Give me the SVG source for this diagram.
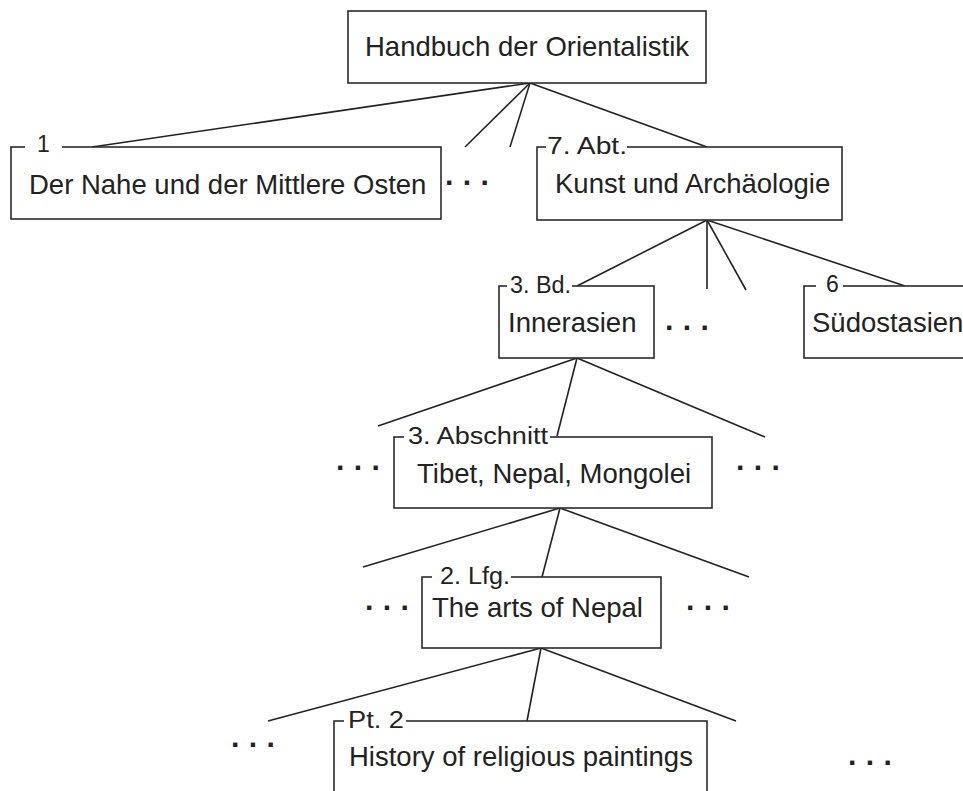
<svg xmlns="http://www.w3.org/2000/svg" width="963" height="791" viewBox="0 0 963 791">
<style>
.box{fill:#fff;stroke:#2b2b2b;stroke-width:1.6}
.t{font-family:"Liberation Sans",Arial,sans-serif;font-size:27.5px;fill:#222}
.lb{font-family:"Liberation Sans",Arial,sans-serif;font-size:23px;fill:#222}
.mask{fill:#fff}
.c line{stroke:#222;stroke-width:1.6}
.dots{font-family:"Liberation Sans",Arial,sans-serif;font-size:30px;font-weight:bold;fill:#222;letter-spacing:7.7px}
</style>
<rect width="963" height="791" fill="#fff"/>
<g id="connectors" class="c">
<line x1="530" y1="83" x2="92" y2="147"/>
<line x1="530" y1="83" x2="465" y2="147"/>
<line x1="530" y1="83" x2="510" y2="147"/>
<line x1="530" y1="83" x2="707" y2="147"/>
<line x1="707" y1="220" x2="577" y2="286"/>
<line x1="707" y1="220" x2="707" y2="289"/>
<line x1="707" y1="220" x2="746" y2="290"/>
<line x1="707" y1="220" x2="905" y2="286"/>
<line x1="577" y1="358" x2="378" y2="426"/>
<line x1="577" y1="358" x2="557" y2="436"/>
<line x1="577" y1="358" x2="765" y2="437"/>
<line x1="560" y1="508" x2="363" y2="567"/>
<line x1="560" y1="508" x2="542" y2="577"/>
<line x1="560" y1="508" x2="749" y2="577"/>
<line x1="541" y1="648" x2="268" y2="721"/>
<line x1="541" y1="648" x2="527" y2="721"/>
<line x1="541" y1="648" x2="736" y2="721"/>
</g>
<g id="root">
<rect class="box" x="348" y="11" width="358" height="72"/>
<text class="t" x="365" y="56">Handbuch der Orientalistik</text>
</g>
<g id="n1">
<rect class="box" x="11" y="147" width="430" height="72"/>
<rect class="mask" x="25" y="143" width="37" height="8"/>
<text class="lb" x="37" y="152">1</text>
<text class="t" x="29" y="194">Der Nahe und der Mittlere Osten</text>
</g>
<g id="n7">
<rect class="box" x="537" y="147" width="305" height="73"/>
<rect class="mask" x="546" y="143" width="81" height="8"/>
<text class="lb" x="547" y="154" textLength="80" lengthAdjust="spacingAndGlyphs">7. Abt.</text>
<text class="t" x="555" y="193">Kunst und Archäologie</text>
</g>
<g id="n3bd">
<rect class="box" x="499" y="286" width="155" height="72"/>
<rect class="mask" x="507" y="282" width="65" height="8"/>
<text class="lb" x="510" y="293" textLength="61" lengthAdjust="spacingAndGlyphs">3. Bd.</text>
<text class="t" x="508" y="332">Innerasien</text>
</g>
<g id="n6">
<rect class="box" x="804" y="286" width="220" height="72"/>
<rect class="mask" x="816" y="282" width="27" height="8"/>
<text class="lb" x="826" y="292">6</text>
<text class="t" x="812" y="332">Südostasien</text>
</g>
<g id="n3ab">
<rect class="box" x="394" y="437" width="318" height="71"/>
<rect class="mask" x="404" y="433" width="146" height="8"/>
<text class="lb" x="408" y="444" textLength="140" lengthAdjust="spacingAndGlyphs">3. Abschnitt</text>
<text class="t" x="417" y="483">Tibet, Nepal, Mongolei</text>
</g>
<g id="n2lfg">
<rect class="box" x="422" y="577" width="239" height="71"/>
<rect class="mask" x="432" y="573" width="79" height="8"/>
<text class="lb" x="440" y="584" textLength="70" lengthAdjust="spacingAndGlyphs">2. Lfg.</text>
<text class="t" x="432" y="617">The arts of Nepal</text>
</g>
<g id="npt2">
<rect class="box" x="334" y="721" width="373" height="100"/>
<rect class="mask" x="344" y="717" width="62" height="8"/>
<text class="lb" x="348" y="728" textLength="56" lengthAdjust="spacingAndGlyphs">Pt. 2</text>
<text class="t" x="349" y="766">History of religious paintings</text>
</g>
<g id="ellipses">
<text class="dots" x="445" y="193">···</text>
<text class="dots" x="665" y="338">···</text>
<text class="dots" x="336" y="478">···</text>
<text class="dots" x="736" y="478">···</text>
<text class="dots" x="365" y="618">···</text>
<text class="dots" x="686" y="618">···</text>
<text class="dots" x="231" y="755">···</text>
<text class="dots" x="848" y="773">···</text>
</g>
</svg>
